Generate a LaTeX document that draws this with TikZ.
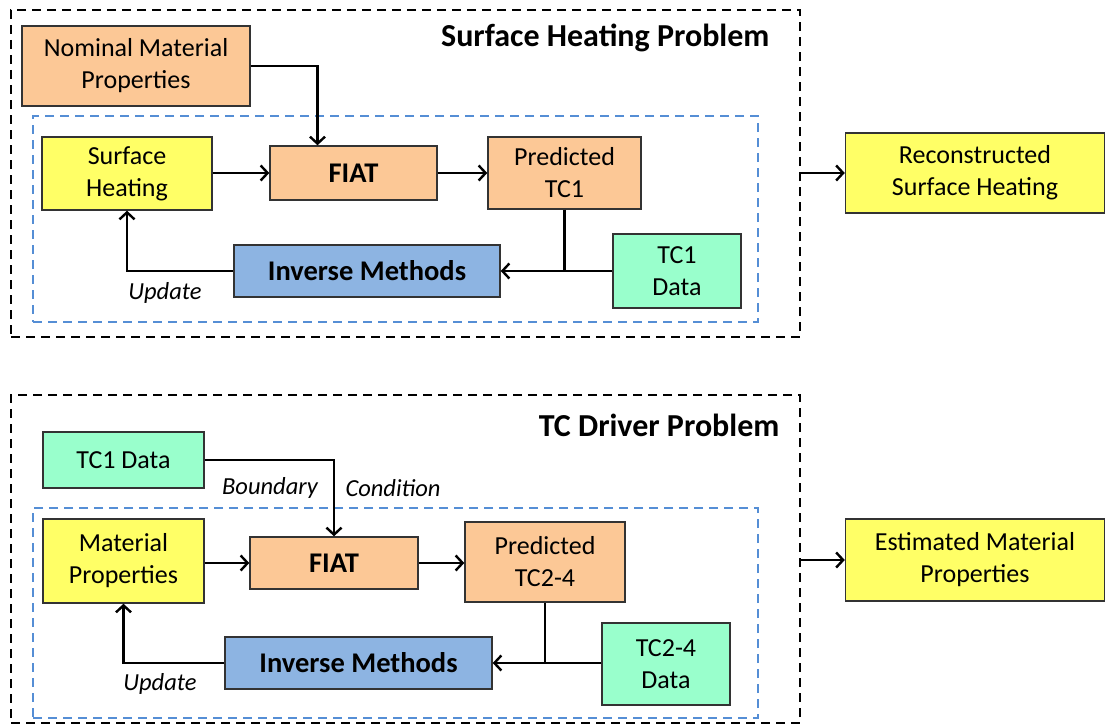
\documentclass[tikz,border=0pt]{standalone}
\usepackage{fontspec}
\setmainfont{Carlito}
\usepackage{tikz}
\usetikzlibrary{arrows.meta}
\usetikzlibrary{calc}
\usepackage{xcolor}

\definecolor{peach}{RGB}{252,200,150}
\definecolor{lemon}{RGB}{255,255,102}
\definecolor{mint}{RGB}{153,255,204}
\definecolor{steel}{RGB}{141,180,226}
\definecolor{dashblue}{RGB}{85,142,213}

\tikzset{
  blk/.style={draw=black!80, line width=1.4pt, align=center, inner sep=0pt,
    font=\fontsize{26}{32}\selectfont},
  boldblk/.style={blk, font=\fontsize{28.5}{32}\selectfont\bfseries},
  problem/.style={draw=black, line width=2.6pt, dash pattern=on 9pt off 6pt, inner sep=0pt},
  loopbox/.style={draw=dashblue, line width=2.6pt, dash pattern=on 9pt off 6pt, inner sep=0pt},
  conn/.style={line width=2.4pt, ->},
  tag/.style={font=\fontsize{24.5}{28}\selectfont\itshape},
  heading/.style={font=\fontsize{32}{36}\selectfont\bfseries, anchor=east}
}

\begin{document}
\begin{tikzpicture}[x=1pt, y=-1pt, >={Straight Barb[length=7pt, width=15pt, line width=2.4pt]}]
    \useasboundingbox (0,0) rectangle (1105,725);

    % Surface heating problem (upper panel)
    \node[problem, minimum width=789, minimum height=327] (prob1) at (405.5,173.5) {};
    \node[loopbox, minimum width=725, minimum height=206] (loop1) at (395.5,219) {};
    \node[heading] (title1) at (773,38) {Surface Heating Problem};

    \node[blk, fill=peach, minimum width=228, minimum height=80] (nom) at (136,66) {Nominal Material\\Properties};
    \node[blk, fill=lemon, minimum width=170, minimum height=73] (heat) at (127,173.5) {Surface\\Heating};
    \node[boldblk, fill=peach, minimum width=167, minimum height=54] (fiat1) at (353.5,173) {FIAT};
    \node[blk, fill=peach, minimum width=153, minimum height=72] (pred1) at (564.5,173) {Predicted\\TC1};
    \node[boldblk, fill=steel, minimum width=266, minimum height=52] (inv1) at (367,271) {Inverse Methods};
    \node[blk, fill=mint, minimum width=128, minimum height=74] (tc1) at (677,271) {TC1\\Data};
    \node[blk, fill=lemon, minimum width=259, minimum height=80] (recon) at (975,173) {Reconstructed\\Surface Heating};
    \node[tag] (upd1) at (165,293) {Update};

    % Connectors of the upper panel
    \draw[conn] (nom.east) -| ([xshift=-36pt]fiat1.north);
    \draw[conn] (heat.east |- fiat1.west) -- (fiat1.west);
    \draw[conn] (fiat1.east) -- (fiat1.east -| pred1.west);
    \draw[line width=2.4pt] (pred1.south) -- (pred1.south |- tc1.west);
    \draw[conn] (tc1.west) -- (inv1.east);
    \draw[conn] (inv1.west) -| (heat.south);
    \draw[conn] (prob1.east |- recon.west) -- (recon.west);

    % TC driver problem (lower panel)
    \node[problem, minimum width=789, minimum height=328] (prob2) at (405.5,559) {};
    \node[loopbox, minimum width=725, minimum height=210] (loop2) at (395.5,613) {};
    \node[heading] (title2) at (783,425) {TC Driver Problem};

    \node[blk, fill=mint, minimum width=161, minimum height=56] (tcd) at (123.5,460) {TC1 Data};
    \node[blk, fill=lemon, minimum width=161, minimum height=84] (mat) at (123.5,561) {Material\\Properties};
    \node[boldblk, fill=peach, minimum width=168, minimum height=52] (fiat2) at (334,563) {FIAT};
    \node[blk, fill=peach, minimum width=160, minimum height=80] (pred2) at (545,562) {Predicted\\TC2-4};
    \node[boldblk, fill=steel, minimum width=267, minimum height=52] (inv2) at (358.5,663) {Inverse Methods};
    \node[blk, fill=mint, minimum width=128, minimum height=82] (tc24) at (666,664) {TC2-4\\Data};
    \node[blk, fill=lemon, minimum width=259, minimum height=82] (estim) at (975,560) {Estimated Material\\Properties};
    \node[tag] (bnd) at (270,488) {Boundary};
    \node[tag] (cnd) at (393,488) {Condition};
    \node[tag] (upd2) at (160,684) {Update};

    % Connectors of the lower panel
    \draw[conn] (tcd.east) -| (fiat2.north);
    \draw[conn] (mat.east |- fiat2.west) -- (fiat2.west);
    \draw[conn] (fiat2.east) -- (fiat2.east -| pred2.west);
    \draw[line width=2.4pt] (pred2.south) -- (pred2.south |- inv2.east);
    \draw[conn] (tc24.west |- inv2.east) -- (inv2.east);
    \draw[conn] (inv2.west) -| (mat.south);
    \draw[conn] (prob2.east |- estim.west) -- (estim.west);
\end{tikzpicture}
\end{document}
